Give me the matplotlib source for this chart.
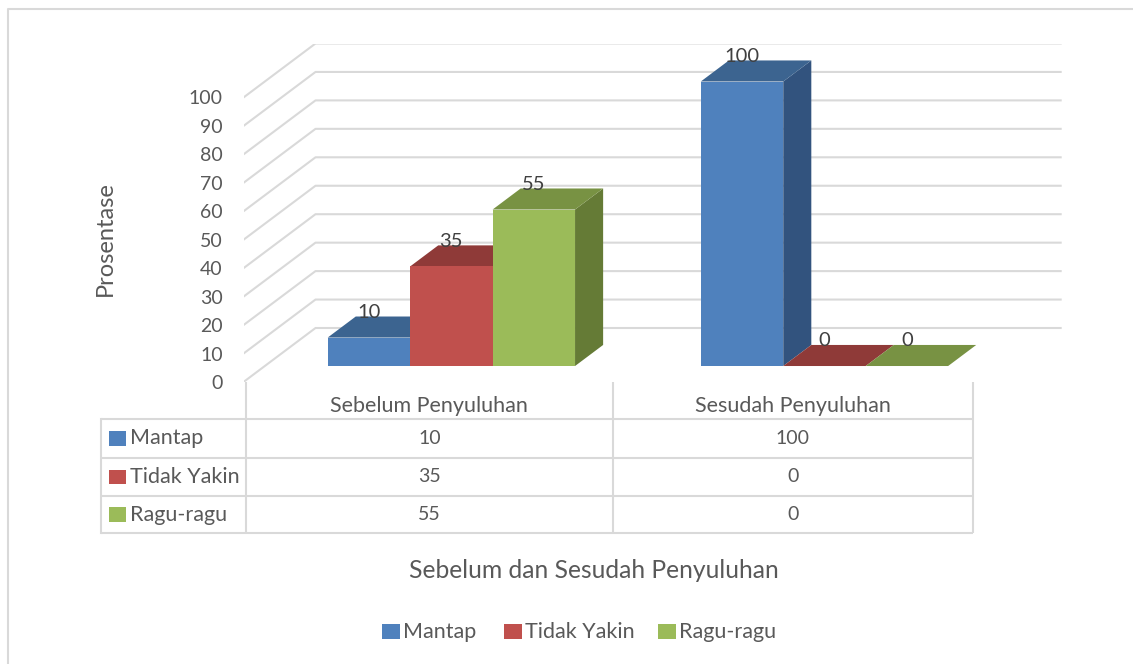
import matplotlib
matplotlib.use("Agg")
import matplotlib.pyplot as plt
from matplotlib.patches import Polygon, Rectangle

# ---------------- data ----------------
categories = ["Sebelum Penyuluhan", "Sesudah Penyuluhan"]
series_names = ["Mantap", "Tidak Yakin", "Ragu-ragu"]
mantap = [10, 100]
tidak_yakin = [35, 0]
ragu_ragu = [55, 0]
series_values = [mantap, tidak_yakin, ragu_ragu]
y_ticks = [0, 10, 20, 30, 40, 50, 60, 70, 80, 90, 100]
y_title = "Prosentase"
x_title = "Sebelum dan Sesudah Penyuluhan"

front_colors = ["#4F81BD", "#C0504D", "#9BBB59"]
top_colors = ["#3C6490", "#8F3A38", "#789243"]
side_colors = ["#32537E", "#86403D", "#657B36"]

# ---------------- layout ----------------
W, H = 1133, 664
plt.rcParams["font.family"] = ["Lato", "DejaVu Sans"]
fig = plt.figure(figsize=(W / 100, H / 100), dpi=100)
fig.patch.set_facecolor("white")

TXT = "#595959"
FS_WORD = 15.5
FS_NUM = 14.0

L0, R0, T0, B0 = 243.5, 1061.7, 43.5, 382.0
DEPTH_PX_X, DEPTH_PX_Y = 72.0, 54.0
UX = (R0 - L0 - DEPTH_PX_X) / 2.0
DX = DEPTH_PX_X / UX
UY = (B0 - T0 - DEPTH_PX_Y) / 100.0
DV = DEPTH_PX_Y / UY
D0, D1 = 0.296, 0.686
dd = D1 - D0
BW = 0.221

ax = fig.add_axes([L0 / W, 1 - B0 / H, (R0 - L0) / W, (B0 - T0) / H])
ax.set_xlim(0, 2 + DX)
ax.set_ylim(0, 100 + DV)
for s in ax.spines.values():
    s.set_visible(False)
ax.set_xticks([])
ax.set_yticks(y_ticks)
ax.set_yticklabels([str(t) for t in y_ticks])
ax.tick_params(axis="y", length=0, pad=15, labelsize=FS_NUM, labelcolor=TXT)
ax.patch.set_alpha(0)

grid_c = "#D9D9D9"
for t in y_ticks:
    ax.plot([0, DX, 2 + DX], [t, t + DV, t + DV], color=grid_c, lw=1.5,
            solid_capstyle="butt", zorder=1)

nser = len(series_values)
b = D0 * DV
for i in range(len(categories)):
    for j in range(nser):
        val = series_values[j][i]
        x = (i + 0.5) - nser * BW / 2 + j * BW + D0 * DX
        side = Polygon([(x + BW, b), (x + BW + dd * DX, b + dd * DV),
                        (x + BW + dd * DX, b + val + dd * DV), (x + BW, b + val)],
                       closed=True, facecolor=side_colors[j], edgecolor="none", zorder=3)
        ax.add_patch(side)
        top = Polygon([(x, b + val), (x + BW, b + val),
                       (x + BW + dd * DX, b + val + dd * DV), (x + dd * DX, b + val + dd * DV)],
                      closed=True, facecolor=top_colors[j], edgecolor="none", zorder=3)
        ax.add_patch(top)
        ax.bar([x], [val], width=BW, bottom=b, align="edge",
               color=front_colors[j], edgecolor="none", zorder=3)
        ax.text(x + BW / 2, b + val + dd * DV + 1.4, str(val), ha="center", va="center",
                fontsize=14.5, color="#404040", zorder=5)

# ---------------- overlay (pixel coords) ----------------
ov = fig.add_axes([0, 0, 1, 1])
ov.set_xlim(0, W)
ov.set_ylim(H, 0)
ov.axis("off")
ov.patch.set_alpha(0)

# chart border (left & top visible)
ov.plot([7.5, 7.5, W], [H, 8.5, 8.5], color="#D9D9D9", lw=1.5, solid_capstyle="butt")

# axis titles
ov.text(105, 239, y_title, rotation=90, ha="center", va="center",
        fontsize=17, color=TXT)
ov.text(594, 571, x_title, ha="center", va="center", fontsize=17.7, color=TXT)

# data table
col_x = [101, 245.7, 613, 972.7]
row_y = [382, 419, 457.5, 496, 533.3]
for yy in row_y[1:]:
    ov.plot([col_x[0], col_x[-1]], [yy, yy], color=grid_c, lw=1.5, solid_capstyle="butt")
ov.plot([col_x[0], col_x[0]], [row_y[1], row_y[-1]], color=grid_c, lw=1.5)
for xx in col_x[1:]:
    ov.plot([xx, xx], [row_y[0], row_y[-1]], color=grid_c, lw=1.5, solid_capstyle="butt")

for i, cat in enumerate(categories):
    cx = (col_x[i + 1] + col_x[i + 2]) / 2
    ov.text(cx, (row_y[0] + row_y[1]) / 2 + 5, cat, ha="center", va="center",
            fontsize=FS_WORD, color=TXT)
    for j in range(nser):
        cy = (row_y[j + 1] + row_y[j + 2]) / 2
        ov.text(cx, cy, str(series_values[j][i]), ha="center", va="center",
                fontsize=FS_NUM, color=TXT)

for j, name in enumerate(series_names):
    cy = (row_y[j + 1] + row_y[j + 2]) / 2
    ov.add_patch(Rectangle((109, cy - 7.25), 17, 14.5, facecolor=front_colors[j],
                           edgecolor="none"))
    ov.text(130, cy, name, ha="left", va="center", fontsize=FS_WORD, color=TXT)

# legend
leg_x = [382, 504, 658]
leg_y = 631.7
for j, name in enumerate(series_names):
    ov.add_patch(Rectangle((leg_x[j], leg_y - 7.25), 17.5, 14.5, facecolor=front_colors[j],
                           edgecolor="none"))
    ov.text(leg_x[j] + 21, leg_y, name, ha="left", va="center", fontsize=FS_WORD,
            color=TXT)

fig.savefig("out.png", dpi=100, facecolor="white")
